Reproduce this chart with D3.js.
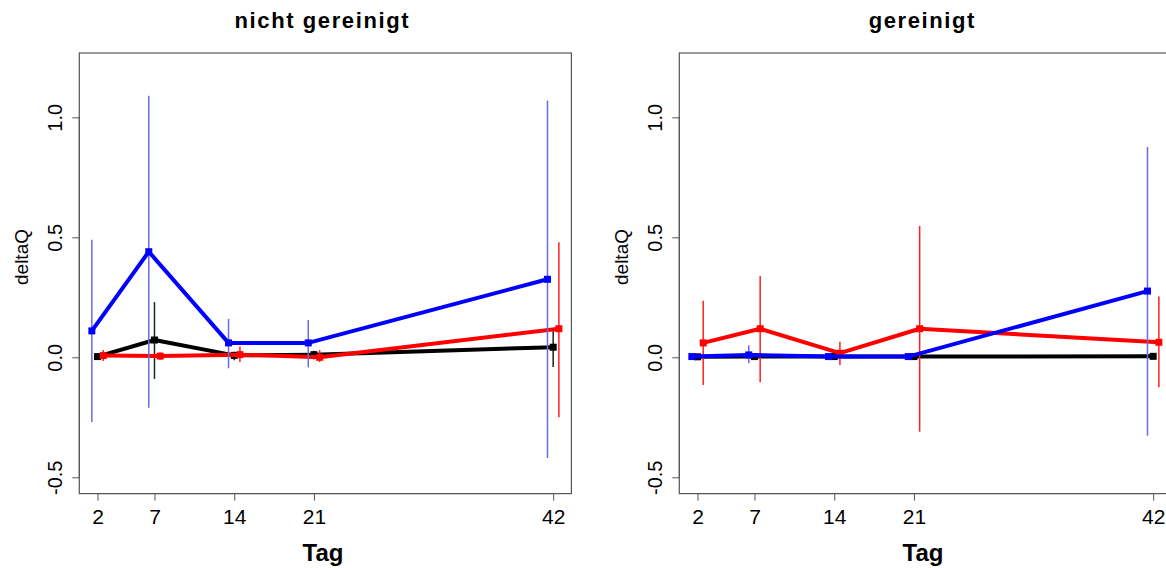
<!DOCTYPE html>
<html>
<head>
<meta charset="utf-8">
<script src="https://cdn.jsdelivr.net/npm/d3@7"></script>
<style>
html,body{margin:0;padding:0;background:#fff;}
svg{display:block;}
text{font-family:"Liberation Sans",Arial,sans-serif;fill:#000;}
</style>
</head>
<body>
<svg id="chart" width="1166" height="568"></svg>
<script>
// ---- data ----
const days = [2, 7, 14, 21, 42];
const tickLabels = ["2", "7", "14", "21", "42"];
const yTicks = [-0.5, 0.0, 0.5, 1.0];
const yTickLabels = ["-0.5", "0.0", "0.5", "1.0"];
const panelTitles = ["nicht gereinigt", "gereinigt"];

// nicht gereinigt
const blueL    = [0.110, 0.440, 0.060, 0.060, 0.325];
const blueLlo  = [-0.270, -0.210, -0.046, -0.042, -0.420];
const blueLhi  = [0.490, 1.090, 0.160, 0.155, 1.070];
const blackL   = [0.003, 0.072, 0.008, 0.011, 0.042];
const blackLlo = [-0.005, -0.090, -0.012, -0.008, -0.040];
const blackLhi = [0.010, 0.230, 0.023, 0.027, 0.114];
const redL     = [0.007, 0.005, 0.011, 0.000, 0.119];
const redLlo   = [-0.015, -0.010, -0.020, -0.020, -0.250];
const redLhi   = [0.030, 0.020, 0.045, 0.030, 0.479];

// gereinigt
const blueR    = [0.003, 0.010, 0.003, 0.003, 0.276];
const blueRlo  = [-0.005, -0.025, -0.005, -0.005, -0.327];
const blueRhi  = [0.010, 0.050, 0.010, 0.010, 0.876];
const blackR   = [0.002, 0.003, 0.003, 0.003, 0.004];
const blackRlo = [-0.004, -0.004, -0.004, -0.004, -0.004];
const blackRhi = [0.008, 0.008, 0.008, 0.008, 0.008];
const redR     = [0.060, 0.119, 0.017, 0.119, 0.0625];
const redRlo   = [-0.115, -0.104, -0.032, -0.310, -0.125];
const redRhi   = [0.236, 0.339, 0.065, 0.547, 0.253];

const seriesOffsets = {black: 0, red: 0.5, blue: -0.5};

const panels = [
  {title: panelTitles[0], dx: 0, series: [
    {name: "black", v: blackL, lo: blackLlo, hi: blackLhi},
    {name: "red", v: redL, lo: redLlo, hi: redLhi},
    {name: "blue", v: blueL, lo: blueLlo, hi: blueLhi}]},
  {title: panelTitles[1], dx: 600, series: [
    {name: "black", v: blackR, lo: blackRlo, hi: blackRhi},
    {name: "red", v: redR, lo: redRlo, hi: redRhi},
    {name: "blue", v: blueR, lo: blueRlo, hi: blueRhi}]}
];

const lineColor = {black: "#000000", red: "#ff0000", blue: "#0000ff"};
const barColor  = {black: "#222222", red: "#ff2020", blue: "#6a6ae0"};

const svg = d3.select("#chart");
const box = {left: 79.3, right: 571.4, top: 53, bottom: 493.6};

const x = d3.scaleLinear().domain([0.4, 43.6]).range([box.left, box.right]);
const y = d3.scaleLinear().domain([-0.568, 1.268]).range([box.bottom, box.top]);

panels.forEach(p => {
  const g = svg.append("g").attr("transform", `translate(${p.dx},0)`);

  // title
  g.append("text")
    .attr("x", (box.left + box.right) / 2 - 3)
    .attr("y", 28)
    .attr("text-anchor", "middle")
    .style("font-size", "22px")
    .style("font-weight", "bold")
    .style("letter-spacing", "1.6px")
    .text(p.title);

  // box
  g.append("rect")
    .attr("x", box.left).attr("y", box.top)
    .attr("width", box.right - box.left).attr("height", box.bottom - box.top)
    .attr("fill", "none").attr("stroke", "#555").attr("stroke-width", 1.2);

  // x axis
  const xAxis = d3.axisBottom(x).tickValues(days)
    .tickFormat((d, i) => tickLabels[i]).tickSize(7).tickPadding(8);
  const gx = g.append("g").attr("transform", `translate(0,${box.bottom})`).call(xAxis);
  gx.select(".domain").attr("d", `M${x(days[0])},0H${x(days[days.length-1])}`).attr("stroke", "#555");
  gx.selectAll(".tick line").attr("stroke", "#555");
  gx.selectAll(".tick text").style("font-size", "21px").style("font-family", "Liberation Sans, Arial, sans-serif").attr("fill", "#000");

  // y axis
  const yAxis = d3.axisLeft(y).tickValues(yTicks).tickFormat((d, i) => yTickLabels[i]).tickSize(7);
  const gy = g.append("g").attr("transform", `translate(${box.left},0)`).call(yAxis);
  gy.select(".domain").attr("d", `M0,${y(yTicks[0])}V${y(yTicks[yTicks.length-1])}`).attr("stroke", "#555");
  gy.selectAll(".tick line").attr("stroke", "#555");
  gy.selectAll(".tick text")
    .attr("x", null).attr("dy", null)
    .attr("text-anchor", "middle")
    .attr("transform", "translate(-17,0) rotate(-90)")
    .style("font-size", "20px")
    .style("font-family", "Liberation Sans, Arial, sans-serif")
    .attr("fill", "#000");

  // axis titles
  g.append("text")
    .attr("transform", `translate(28,257) rotate(-90)`)
    .attr("text-anchor", "middle")
    .style("font-size", "19px")
    .text("deltaQ");
  g.append("text")
    .attr("x", 323).attr("y", 561)
    .attr("text-anchor", "middle")
    .style("font-size", "24px")
    .style("font-weight", "bold")
    .text("Tag");

  const clip = g.append("g");

  p.series.forEach(s => {
    const off = seriesOffsets[s.name];
    const pts = days.map((d, i) => ({d: d + off, v: s.v[i], lo: s.lo[i], hi: s.hi[i]}));
    // error bars
    clip.selectAll(null).data(pts).enter().append("line")
      .attr("x1", q => x(q.d)).attr("x2", q => x(q.d))
      .attr("y1", q => y(q.lo)).attr("y2", q => y(q.hi))
      .attr("stroke", barColor[s.name]).attr("stroke-width", 1.5);
    // line
    clip.append("path").datum(pts)
      .attr("d", d3.line().x(q => x(q.d)).y(q => y(q.v)))
      .attr("fill", "none").attr("stroke", lineColor[s.name])
      .attr("stroke-width", 4).attr("stroke-linejoin", "round");
    // points
    clip.selectAll(null).data(pts).enter().append("rect")
      .attr("x", q => x(q.d) - 3.5).attr("y", q => y(q.v) - 3.5)
      .attr("width", 7).attr("height", 7)
      .attr("fill", lineColor[s.name]);
  });
});
</script>
</body>
</html>
